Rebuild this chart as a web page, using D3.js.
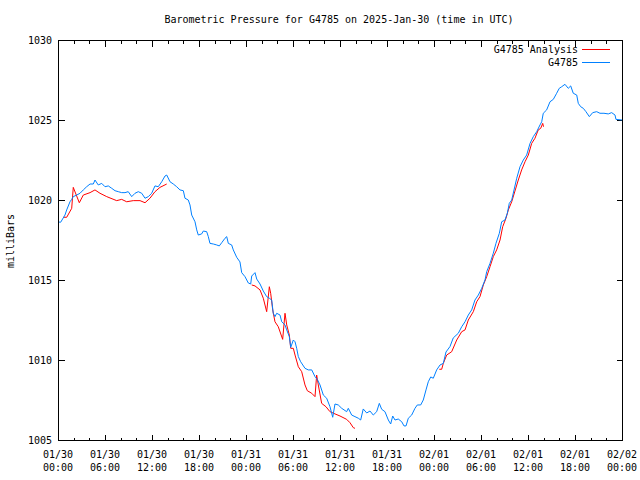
<!DOCTYPE html>
<html><head><meta charset="utf-8">
<script src="https://cdn.jsdelivr.net/npm/d3@7"></script>
<style>
html,body{margin:0;padding:0;background:#fff;}
text{font-family:"DejaVu Sans Mono",monospace;font-size:10px;fill:#000;}
</style></head>
<body>
<svg id="chart" width="640" height="480"></svg>
<script>
// ---- data (hours since 2025-01-30 00:00 UTC, pressure in mb) ----
const stationHours = [0.00,0.34,0.89,1.11,1.53,1.75,1.95,2.39,2.81,3.23,3.66,4.09,4.51,4.72,5.14,5.58,6.00,6.42,6.86,7.28,7.70,8.13,8.55,8.97,9.41,9.83,10.25,10.69,11.11,11.53,11.96,12.38,12.80,13.24,13.66,13.88,14.30,14.72,15.15,15.57,16.00,16.21,16.63,16.85,17.07,17.49,17.71,17.91,18.34,18.55,18.98,19.19,19.40,19.83,20.26,20.59,20.90,21.32,21.54,21.74,22.17,22.38,22.81,23.23,23.45,23.87,24.30,24.60,24.73,25.15,25.37,25.79,26.21,26.64,26.98,27.28,27.48,27.70,27.92,28.34,28.56,28.98,29.20,29.53,29.71,30.04,30.26,30.47,30.68,30.98,31.53,31.95,32.39,32.81,33.10,33.45,33.87,34.30,34.72,35.07,35.36,35.78,36.22,36.85,37.06,37.49,37.91,38.34,38.64,38.97,39.41,39.83,40.25,40.68,41.02,41.32,41.74,42.17,42.47,42.73,43.02,43.44,43.88,44.17,44.43,44.72,45.15,45.57,45.87,46.30,46.63,46.98,47.27,47.58,47.91,48.34,48.77,49.19,49.53,50.04,50.46,51.10,51.54,51.96,52.38,52.81,53.23,53.66,54.09,54.51,54.73,55.15,55.57,55.91,56.34,56.64,57.06,57.36,57.61,57.92,58.56,58.98,59.40,59.83,60.26,60.68,61.11,61.53,61.75,61.95,62.38,62.81,63.23,63.66,63.99,64.30,64.72,65.14,65.45,65.78,66.22,66.42,66.73,67.06,67.40,67.83,68.26,68.77,69.19,69.70,70.25,70.68,71.11,71.23,72.00];
const stationPressure = [1018.63,1018.61,1019.06,1019.38,1019.89,1020.04,1020.21,1020.31,1020.42,1020.63,1020.83,1021.00,1021.00,1021.25,1020.94,1021.04,1020.83,1020.88,1020.73,1020.58,1020.52,1020.46,1020.46,1020.52,1020.21,1020.42,1020.52,1020.42,1020.11,1020.21,1020.42,1020.88,1020.83,1021.14,1021.50,1021.56,1021.14,1021.00,1020.83,1020.63,1020.58,1020.11,1020.00,1019.69,1019.06,1018.64,1018.13,1017.81,1017.88,1018.06,1018.02,1017.71,1017.29,1017.25,1017.19,1017.13,1017.33,1017.61,1017.71,1017.29,1017.19,1016.88,1016.42,1016.13,1015.46,1015.21,1014.81,1014.75,1015.25,1015.46,1015.06,1014.75,1014.31,1013.96,1013.86,1013.75,1012.92,1012.71,1012.92,1012.81,1012.39,1012.19,1011.88,1011.46,1010.79,1011.25,1011.14,1010.73,1010.21,1009.89,1009.48,1009.38,1009.38,1008.96,1008.79,1008.44,1007.81,1007.61,1007.08,1006.42,1007.25,1007.19,1006.98,1006.77,1006.98,1006.56,1006.46,1006.36,1006.25,1006.94,1006.69,1006.81,1006.56,1006.77,1007.29,1006.92,1006.77,1006.25,1006.00,1006.50,1006.25,1006.31,1006.14,1005.88,1005.88,1006.36,1006.56,1006.98,1007.19,1007.19,1007.50,1008.13,1008.64,1008.94,1008.86,1009.38,1009.69,1009.79,1010.50,1010.84,1011.38,1011.67,1012.08,1012.39,1012.81,1013.13,1013.75,1014.06,1014.48,1015.00,1015.52,1016.04,1016.67,1017.29,1017.92,1018.64,1018.75,1019.17,1019.79,1020.00,1021.36,1022.08,1022.50,1022.81,1023.54,1023.96,1024.27,1024.69,1024.89,1025.42,1025.63,1026.14,1026.29,1026.67,1026.98,1027.08,1027.23,1026.98,1027.13,1026.67,1026.56,1026.04,1025.83,1025.73,1025.52,1025.21,1025.46,1025.52,1025.42,1025.42,1025.38,1025.46,1025.31,1025.04,1025.00];

// analysis series; null marks a gap in the record
const analysisHours = [0.68,1.11,1.75,1.95,2.72,3.23,4.09,4.72,5.36,6.22,7.49,8.13,8.77,9.61,10.47,11.11,11.74,12.38,13.02,13.88,
  18.0,
  24.73,25.15,25.79,26.21,26.64,26.98,27.15,27.41,27.70,28.12,28.68,28.98,29.20,29.53,29.71,30.04,30.26,30.68,31.11,31.53,31.83,32.39,32.81,33.02,33.23,33.66,34.21,34.72,35.36,36.00,36.85,37.28,37.70,37.91,
  43.0,
  48.68,48.98,49.19,49.62,50.26,50.90,51.54,51.96,52.38,53.02,53.45,53.87,54.30,54.73,55.15,55.57,56.00,56.43,56.77,57.19,57.49,57.92,58.76,59.19,59.62,60.04,60.47,60.89,61.31,61.62,61.88,61.98];
const analysisPressure = [1018.92,1018.92,1019.48,1020.79,1019.83,1020.31,1020.46,1020.63,1020.42,1020.21,1019.96,1020.04,1019.89,1019.96,1019.96,1019.83,1020.11,1020.52,1020.79,1021.00,
  null,
  1014.69,1014.63,1014.38,1013.86,1013.02,1014.58,1014.17,1013.13,1012.39,1012.08,1011.29,1012.92,1012.19,1011.56,1010.73,1010.73,1010.31,1009.58,1009.27,1008.44,1008.08,1007.92,1007.71,1009.06,1008.44,1007.29,1007.08,1006.77,1006.63,1006.50,1006.29,1006.08,1005.77,1005.73,
  null,
  1009.42,1009.42,1009.79,1010.31,1010.52,1011.25,1011.77,1011.88,1012.50,1013.02,1013.64,1013.96,1014.69,1015.21,1015.83,1016.46,1016.88,1017.50,1018.33,1018.86,1019.38,1019.89,1021.25,1021.88,1022.39,1022.81,1023.54,1023.86,1024.38,1024.48,1024.79,1024.58];

const yTicks = [1005,1010,1015,1020,1025,1030];
const xTickHours = [0,6,12,18,24,30,36,42,48,54,60,66,72];
const xMinorHours = d3.range(0,73,2);
const seriesNames = ["G4785 Analysis","G4785"];
const seriesColors = ["#ff0000","#0080ff"];
const titleText = "Barometric Pressure for G4785 on 2025-Jan-30 (time in UTC)";
const yLabel = "milliBars";

// ---- layout ----
const start = Date.UTC(2025,0,30,0,0);
const toDate = h => new Date(start + h*3600000);
const L=58, R=622, T=40, B=440;
const svg = d3.select("#chart");
const x = d3.scaleUtc().domain([toDate(0), toDate(72)]).range([L,R]);
const y = d3.scaleLinear().domain([1005,1030]).range([B,T]);

svg.append("text").attr("x",339).attr("y",23).attr("text-anchor","middle").text(titleText);
svg.append("text").attr("transform","translate(14,241) rotate(-90)").attr("text-anchor","middle").text(yLabel);

const fmtD = d3.utcFormat("%m/%d"), fmtT = d3.utcFormat("%H:%M");
const crisp = g => g.attr("shape-rendering","crispEdges");

// minor x ticks (bottom & top)
svg.append("g").attr("transform",`translate(0,${B+0.5})`).call(crisp)
  .call(d3.axisTop(x).tickValues(xMinorHours.map(toDate)).tickSize(3).tickFormat(""))
  .call(g=>g.select(".domain").remove());
svg.append("g").attr("transform",`translate(0,${T+0.5})`).call(crisp)
  .call(d3.axisBottom(x).tickValues(xMinorHours.map(toDate)).tickSize(3).tickFormat(""))
  .call(g=>g.select(".domain").remove());
// major x ticks
svg.append("g").attr("transform",`translate(0,${B+0.5})`).call(crisp)
  .call(d3.axisTop(x).tickValues(xTickHours.map(toDate)).tickSize(6).tickFormat(""))
  .call(g=>g.select(".domain").remove());
svg.append("g").attr("transform",`translate(0,${T+0.5})`).call(crisp)
  .call(d3.axisBottom(x).tickValues(xTickHours.map(toDate)).tickSize(6).tickFormat(""))
  .call(g=>g.select(".domain").remove());
const xl = svg.append("g");
xTickHours.forEach(h=>{
  const d = toDate(h);
  const t = xl.append("text").attr("text-anchor","middle").attr("x",x(d));
  t.append("tspan").attr("x",x(d)).attr("y",458).text(fmtD(d));
  t.append("tspan").attr("x",x(d)).attr("y",471).text(fmtT(d));
});

// y ticks left and right
svg.append("g").attr("transform",`translate(${L+0.5},0)`).call(crisp)
  .call(d3.axisRight(y).tickValues(yTicks).tickSize(6).tickFormat(""))
  .call(g=>g.select(".domain").remove());
svg.append("g").attr("transform",`translate(${R+0.5},0)`).call(crisp)
  .call(d3.axisLeft(y).tickValues(yTicks).tickSize(6).tickFormat(""))
  .call(g=>g.select(".domain").remove());
yTicks.forEach(v=>{
  svg.append("text").attr("x",52).attr("y",y(v)+4).attr("text-anchor","end").text(v);
});

// lines
const line = d3.line().defined(d=>d[1]!=null).x(d=>x(toDate(d[0]))).y(d=>y(d[1]));
const aData = analysisHours.map((h,i)=>[h,analysisPressure[i]]);
const sData = stationHours.map((h,i)=>[h,stationPressure[i]]);
svg.append("path").datum(aData).attr("d",line).attr("fill","none").attr("stroke",seriesColors[0]).attr("stroke-width",1).attr("stroke-linejoin","round");
svg.append("path").datum(sData).attr("d",line).attr("fill","none").attr("stroke",seriesColors[1]).attr("stroke-width",1).attr("stroke-linejoin","round");

// border
svg.append("rect").attr("x",L+0.5).attr("y",T+0.5).attr("width",R-L).attr("height",B-T)
  .attr("fill","none").attr("stroke","#000").call(crisp);

// legend
seriesNames.forEach((n,i)=>{
  const ly = 49 + i*13;
  svg.append("text").attr("x",578).attr("y",ly+4).attr("text-anchor","end").text(n);
  svg.append("line").attr("x1",582).attr("x2",610).attr("y1",ly+0.5).attr("y2",ly+0.5)
    .attr("stroke",seriesColors[i]).call(crisp);
});
</script>
</body></html>
